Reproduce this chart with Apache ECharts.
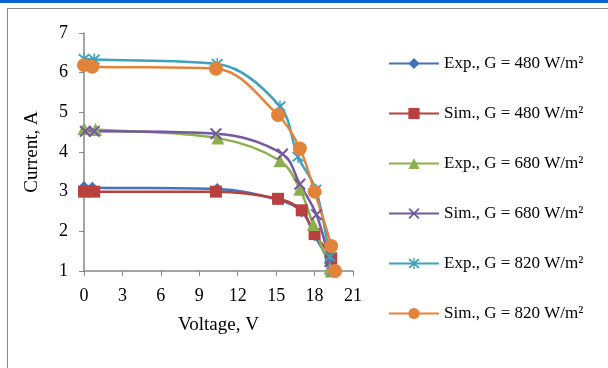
<!DOCTYPE html>
<html>
<head>
<meta charset="utf-8">
<script src="https://cdn.jsdelivr.net/npm/echarts@6/dist/echarts.min.js"></script>
<style>
  html, body { margin: 0; padding: 0; background: #fff; }
  .topbar { position: absolute; left: 0; top: 0; width: 608px; height: 3px; background: #0a62d6; }
  .frame { position: absolute; left: 7px; top: 8px; width: 620px; height: 380px; border-left: 1px solid #8a8a8a; border-top: 1px solid #8a8a8a; }
  #chart { position: absolute; left: 0; top: 0; width: 608px; height: 368px; }
</style>
</head>
<body>
<div class="topbar"></div>
<div class="frame"></div>
<div id="chart"></div>
<script>
  // 电压 (V) / 电流 (A)
  var exp480V = [0, 0.65, 10.4, 15.1, 17.0, 18.0, 19.2, 19.3];
  var exp480I = [3.12, 3.1, 3.07, 2.8, 2.5, 1.9, 1.2, 1.0];
  var sim480V = [0, 0.8, 10.3, 15.15, 17.0, 18.0, 19.3, 19.4];
  var sim480I = [3.0, 3.0, 3.0, 2.82, 2.53, 1.93, 1.32, 1.0];
  var exp680V = [0, 0.9, 10.45, 15.3, 16.85, 17.9, 19.2, 19.3];
  var exp680I = [4.59, 4.57, 4.35, 3.78, 3.06, 2.17, 1.07, 1.0];
  var sim680V = [0.1, 0.8, 10.3, 15.5, 16.85, 18.15, 19.2, 19.4];
  var sim680I = [4.52, 4.52, 4.46, 3.95, 3.19, 2.42, 1.24, 1.0];
  var exp820V = [0, 0.8, 10.4, 15.3, 16.7, 18.1, 19.2, 19.4];
  var exp820I = [6.35, 6.33, 6.22, 5.15, 3.88, 3.05, 1.36, 1.0];
  var sim820V = [0, 0.65, 10.3, 15.15, 16.85, 18.0, 19.3, 19.6];
  var sim820I = [6.19, 6.15, 6.1, 4.93, 4.09, 3.0, 1.63, 1.0];

  var seriesNames = ['Exp., G = 480 W/m²', 'Sim., G = 480 W/m²', 'Exp., G = 680 W/m²',
                     'Sim., G = 680 W/m²', 'Exp., G = 820 W/m²', 'Sim., G = 820 W/m²'];
  var xTicks = { min: 0, max: 21, interval: 3 };
  var yTicks = { min: 1, max: 7, interval: 1 };

  var FONT = '"Liberation Serif", "Times New Roman", serif';
  var crossPath = 'path://M0,1.2L1.2,0L5,3.8L8.8,0L10,1.2L6.2,5L10,8.8L8.8,10L5,6.2L1.2,10L0,8.8L3.8,5Z';
  var starPath = 'path://M0,1.2L1.2,0L5,3.8L8.8,0L10,1.2L6.2,5L10,8.8L8.8,10L5,6.2L1.2,10L0,8.8L3.8,5Z' +
                 'M4.4,-0.6L5.6,-0.6L5.6,10.6L4.4,10.6Z';

  function pairs(xs, ys) {
    return xs.map(function (x, i) { return [x, ys[i]]; });
  }

  function mkSeries(name, xs, ys, symbol, size, color) {
    return {
      name: name,
      type: 'line',
      smooth: 0.35,
      data: pairs(xs, ys),
      symbol: symbol,
      symbolSize: size,
      showAllSymbol: true,
      lineStyle: { width: 2.5, color: color },
      itemStyle: { color: color },
      z: 2
    };
  }

  var chart = echarts.init(document.getElementById('chart'));
  chart.setOption({
    animation: false,
    color: ['#4472b8', '#b8413f', '#8db04e', '#7458a0', '#3ea3bd', '#e3833a'],
    textStyle: { fontFamily: FONT },
    grid: { left: 84, top: 33, right: 255, bottom: 97 },
    legend: {
      orient: 'vertical',
      left: 383,
      top: 50,
      itemWidth: 50,
      itemHeight: 14,
      itemGap: 33,
      textStyle: { fontFamily: FONT, fontSize: 17, lineHeight: 17, color: '#000' },
      data: seriesNames
    },
    xAxis: {
      type: 'value',
      min: xTicks.min, max: xTicks.max, interval: xTicks.interval,
      name: 'Voltage, V',
      nameLocation: 'middle',
      nameGap: 45,
      nameTextStyle: { fontFamily: FONT, fontSize: 19, color: '#000' },
      axisLine: { show: true, lineStyle: { color: '#868686', width: 1.5 } },
      axisTick: { show: true, length: 5, lineStyle: { color: '#868686' } },
      axisLabel: { fontFamily: FONT, fontSize: 18, color: '#000', margin: 16 },
      splitLine: { show: false }
    },
    yAxis: {
      type: 'value',
      min: yTicks.min, max: yTicks.max, interval: yTicks.interval,
      name: 'Current, A',
      nameLocation: 'middle',
      nameGap: 42,
      nameTextStyle: { fontFamily: FONT, fontSize: 19, color: '#000' },
      axisLine: { show: true, lineStyle: { color: '#868686', width: 1.5 } },
      axisTick: { show: true, length: 5, lineStyle: { color: '#868686' } },
      axisLabel: { fontFamily: FONT, fontSize: 18, color: '#000', margin: 16 },
      splitLine: { show: false }
    },
    series: [
      mkSeries(seriesNames[0], exp480V, exp480I, 'diamond', 12, '#4472b8'),
      mkSeries(seriesNames[1], sim480V, sim480I, 'rect', 12, '#b8413f'),
      mkSeries(seriesNames[2], exp680V, exp680I, 'triangle', 13, '#8db04e'),
      mkSeries(seriesNames[3], sim680V, sim680I, crossPath, 12, '#7458a0'),
      mkSeries(seriesNames[4], exp820V, exp820I, starPath, 12, '#3ea3bd'),
      mkSeries(seriesNames[5], sim820V, sim820I, 'circle', 14, '#e3833a')
    ]
  });
</script>
</body>
</html>
